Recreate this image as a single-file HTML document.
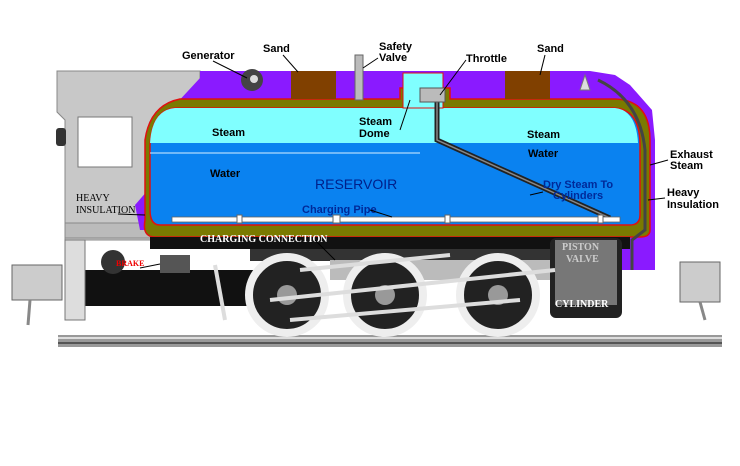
<!DOCTYPE html>
<html><head><meta charset="utf-8"><style>
html,body{margin:0;padding:0;background:#fff;width:740px;height:466px;overflow:hidden}
svg{display:block}
.l{font-family:"Liberation Sans",sans-serif;font-weight:bold;font-size:11px;fill:#000}
.s{font-family:"Liberation Serif",serif;font-weight:bold;font-size:10px}
</style></head><body>
<svg width="740" height="466" viewBox="0 0 740 466" xmlns="http://www.w3.org/2000/svg">
<!-- rail -->
<rect x="58" y="335" width="664" height="12" fill="#999"/>
<rect x="58" y="337" width="664" height="2" fill="#ddd"/>
<rect x="58" y="342" width="664" height="2" fill="#555"/>
<!-- cab -->
<path d="M57 71 L200 71 L200 240 L65 240 L65 120 L57 112 Z" fill="#c8c8c8" stroke="#888"/>
<rect x="65" y="223" width="90" height="15" fill="#bbb" stroke="#888"/>
<rect x="78" y="117" width="54" height="50" fill="#fff" stroke="#777"/>
<rect x="56" y="128" width="10" height="18" rx="3" fill="#333"/>
<!-- couplers -->
<rect x="12" y="265" width="50" height="35" fill="#ccc" stroke="#666"/>
<line x1="30" y1="300" x2="28" y2="325" stroke="#888" stroke-width="3"/>
<rect x="680" y="262" width="40" height="40" fill="#ccc" stroke="#666"/>
<line x1="700" y1="302" x2="705" y2="320" stroke="#888" stroke-width="3"/>
<!-- purple body -->
<path d="M200 71 L590 71 L615 75 L630 85 L652 110 L655 140 L655 270 L620 270 L620 245 L150 245 L150 230 L140 230 L135 205 L148 190 L175 105 L200 78 Z" fill="#8a1aff"/>
<!-- olive insulation -->
<path d="M180 99 L400 99 L400 88 L450 88 L450 99 L615 99 Q650 100 650 140 L650 230 Q650 237 640 237 L155 237 Q142 237 145 220 L145 140 Q150 105 180 99 Z" fill="#7a7a00" stroke="#e01010" stroke-width="1.5"/>
<!-- boiler -->
<path d="M175 108 L615 108 Q640 110 640 145 L640 215 Q640 225 630 225 L160 225 Q150 225 150 210 L150 145 Q152 110 175 108 Z" fill="#0a82f0" stroke="#e01010" stroke-width="1.5"/>
<path d="M175 108 L615 108 Q636 110 638 143 L150 143 Q152 110 175 108 Z" fill="#80ffff"/>
<line x1="150" y1="153" x2="420" y2="153" stroke="#d8f0ff" stroke-width="1"/>
<rect x="403" y="73" width="40" height="35" fill="#80ffff" stroke="#e01010"/>
<!-- steam pipe -->
<path d="M437 92 L437 140 L610 218" fill="none" stroke="#222" stroke-width="5"/>
<path d="M437 92 L437 140 L610 218" fill="none" stroke="#888" stroke-width="1.5"/>
<rect x="420" y="88" width="25" height="14" fill="#bbb" stroke="#555"/>
<!-- charging pipe -->
<rect x="172" y="217" width="448" height="5" fill="#fff" stroke="#666" stroke-width=".8"/>
<rect x="237" y="215" width="5" height="8" fill="#fff" stroke="#666"/>
<rect x="333" y="215" width="7" height="8" fill="#fff" stroke="#666"/>
<rect x="445" y="215" width="5" height="8" fill="#fff" stroke="#666"/>
<rect x="598" y="215" width="5" height="8" fill="#fff" stroke="#666"/>
<!-- exhaust pipe -->
<path d="M598 80 Q640 100 645 150 L645 230 L632 240 L632 270" fill="none" stroke="#444" stroke-width="3"/>
<!-- top items -->
<rect x="291" y="71" width="45" height="28" fill="#804000"/>
<rect x="505" y="71" width="45" height="28" fill="#804000"/>
<circle cx="252" cy="80" r="11" fill="#444"/><circle cx="254" cy="79" r="4" fill="#ddd"/>
<rect x="355" y="55" width="8" height="45" fill="#bbb" stroke="#666"/>
<path d="M580 90 L585 75 L590 90 Z" fill="#ddd" stroke="#777"/>
<!-- undercarriage -->
<rect x="150" y="237" width="480" height="12" fill="#111"/>
<rect x="78" y="270" width="180" height="36" fill="#111"/>
<rect x="250" y="249" width="300" height="12" fill="#333"/>
<rect x="330" y="260" width="220" height="20" fill="#bbb"/>
<rect x="65" y="240" width="20" height="80" fill="#ddd" stroke="#777"/>
<circle cx="113" cy="262" r="12" fill="#333"/>
<rect x="160" y="255" width="30" height="18" fill="#555"/>
<rect x="550" y="238" width="72" height="80" rx="6" fill="#222"/>
<rect x="555" y="240" width="62" height="65" fill="#777"/>
<g fill="#222" stroke="#eee" stroke-width="8">
<circle cx="287" cy="295" r="38"/><circle cx="385" cy="295" r="38"/><circle cx="498" cy="295" r="38"/>
</g>
<g fill="#999"><circle cx="287" cy="295" r="10"/><circle cx="385" cy="295" r="10"/><circle cx="498" cy="295" r="10"/></g>
<g stroke="#ddd" stroke-width="4" fill="none">
<line x1="270" y1="300" x2="555" y2="270"/><line x1="290" y1="320" x2="520" y2="300"/><line x1="300" y1="270" x2="450" y2="255"/>
<line x1="215" y1="265" x2="225" y2="320"/>
</g>
<!-- labels -->
<g class="l">
<text x="182" y="59">Generator</text>
<text x="263" y="52">Sand</text>
<text x="379" y="50">Safety</text><text x="379" y="61">Valve</text>
<text x="466" y="62">Throttle</text>
<text x="537" y="52">Sand</text>
<text x="212" y="136">Steam</text>
<text x="359" y="125">Steam</text><text x="359" y="137">Dome</text>
<text x="527" y="138">Steam</text>
<text x="528" y="157">Water</text>
<text x="210" y="177">Water</text>
<text x="670" y="158">Exhaust</text><text x="670" y="169">Steam</text>
<text x="667" y="196">Heavy</text><text x="667" y="208">Insulation</text>
</g>
<g class="l" style="fill:#002a99">
<text x="302" y="213">Charging Pipe</text>
<text x="543" y="188">Dry Steam To</text><text x="553" y="199">Cylinders</text>
<text x="315" y="189" style="font-size:14px;font-weight:normal;fill:#00208a">RESERVOIR</text>
</g>
<text class="s" x="76" y="201" style="font-weight:normal;fill:#000">HEAVY</text>
<text class="s" x="76" y="213" style="font-weight:normal;fill:#000">INSULATION</text>
<text class="s" x="200" y="242" fill="#fff">CHARGING CONNECTION</text>
<text class="s" x="116" y="266" fill="#e00" style="font-size:8px">BRAKE</text>
<text class="s" x="562" y="250" fill="#ccc">PISTON</text>
<text class="s" x="566" y="262" fill="#ccc">VALVE</text>
<text class="s" x="555" y="307" fill="#fff">CYLINDER</text>
<!-- leader lines -->
<g stroke="#000" stroke-width="1">
<line x1="213" y1="61" x2="247" y2="78"/><line x1="283" y1="55" x2="298" y2="72"/>
<line x1="378" y1="58" x2="363" y2="68"/><line x1="466" y1="60" x2="440" y2="95"/>
<line x1="545" y1="55" x2="540" y2="75"/><line x1="400" y1="130" x2="410" y2="100"/>
<line x1="668" y1="160" x2="650" y2="165"/><line x1="665" y1="198" x2="648" y2="200"/>
<line x1="118" y1="214" x2="145" y2="215"/><line x1="370" y1="210" x2="392" y2="217"/>
<line x1="543" y1="192" x2="530" y2="195"/><line x1="140" y1="268" x2="160" y2="264"/>
<line x1="315" y1="240" x2="335" y2="260"/>
</g>
</svg>
</body></html>
